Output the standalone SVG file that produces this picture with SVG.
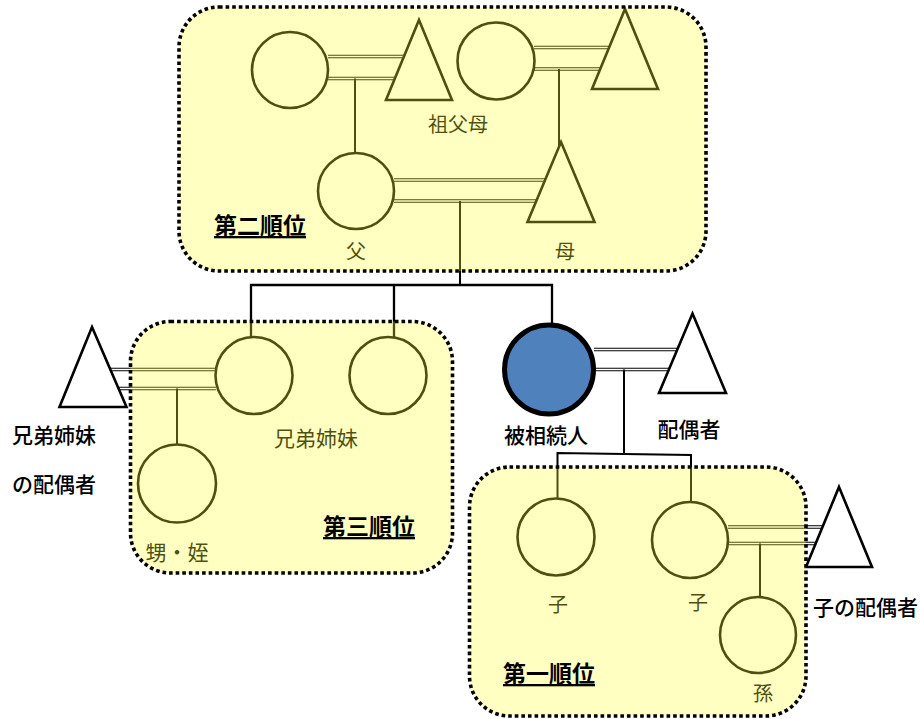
<svg xmlns="http://www.w3.org/2000/svg" width="920" height="719" viewBox="0 0 920 719">
<style>
.bg{fill:#ffffff}
.ln{fill:none;stroke:#000;stroke-width:2}
.dbl{fill:none;stroke:#000;stroke-width:3.6}
.dblin{fill:none;stroke:#fff;stroke-width:1.3}
.per{fill:#fff;stroke:#000;stroke-width:2.6}
.tri{fill:#fff;stroke:#000;stroke-width:2.6;stroke-linejoin:miter}
.dec{fill:#4f81bd;stroke:#000;stroke-width:5}
.lab{font-family:"Noto Sans CJK JP","Liberation Sans",sans-serif;font-size:20px;fill:#000;text-anchor:middle;dominant-baseline:central}
.blk{font-family:"Noto Sans CJK JP","Liberation Sans",sans-serif;font-size:21px;font-weight:500;fill:#000;dominant-baseline:central}
.ttl{font-family:"Noto Sans CJK JP","Liberation Sans",sans-serif;font-size:23px;font-weight:700;fill:#000;dominant-baseline:central;text-decoration:underline}
.box{fill:rgb(255,255,58);fill-opacity:0.31;stroke:#000;stroke-width:3.6;stroke-dasharray:3.6 3}
</style>
<rect class="bg" x="0" y="0" width="920" height="719"/>
<g id="connectors">
  <path class="dbl" d="M328,56.5H419M328,78.5H419"/>
  <path class="dblin" d="M328,56.5H419M328,78.5H419"/>
  <path class="ln" d="M355,78.5V160"/>
  <path class="dbl" d="M534,47.5H625M534,69H625"/>
  <path class="dblin" d="M534,47.5H625M534,69H625"/>
  <path class="ln" d="M559,69V160"/>
  <path class="dbl" d="M394,180H561M394,201H561"/>
  <path class="dblin" d="M394,180H561M394,201H561"/>
  <path class="ln" d="M460,201V285"/>
  <path class="ln" style="stroke-width:2.3" d="M251,345V285H552V335M394,285V345"/>
  <path class="dbl" d="M92,369.5H216M92,388.5H216"/>
  <path class="dblin" d="M92,369.5H216M92,388.5H216"/>
  <path class="ln" d="M177,388.5V450"/>
  <path class="dbl" d="M594,349.5H692M594,369.5H692"/>
  <path class="dblin" d="M594,349.5H692M594,369.5H692"/>
  <path class="ln" d="M624,369.5V454"/>
  <path class="ln" d="M557.5,505V453L691,455V510"/>
  <path class="dbl" d="M728,527H839M728,543.5H839"/>
  <path class="dblin" d="M728,527H839M728,543.5H839"/>
  <path class="ln" d="M760,543.5V605"/>
</g>
<g id="grandmother-paternal"><circle class="per" cx="290" cy="70" r="38"/></g>
<g id="grandfather-paternal"><polygon class="tri" points="419,20 452,100 386,100"/></g>
<g id="grandmother-maternal"><circle class="per" cx="496" cy="61" r="38.5"/></g>
<g id="grandfather-maternal"><polygon class="tri" points="625,9 658,89 592,89"/></g>
<g id="grandparents-label"><text class="lab" x="458" y="123">祖父母</text></g>
<g id="father"><circle class="per" cx="356" cy="191" r="38"/><text class="lab" x="356" y="250">父</text></g>
<g id="mother"><polygon class="tri" points="561,142 594.5,222 527.5,222"/><text class="lab" x="565" y="250">母</text></g>
<g id="sibling1"><circle class="per" cx="254" cy="375.5" r="38.5"/></g>
<g id="sibling2"><circle class="per" cx="388" cy="375.5" r="38.5"/><text class="lab" x="316" y="437" style="font-size:21px">兄弟姉妹</text></g>
<g id="sibling-spouse"><polygon class="tri" points="92,327 126.5,407 59.5,407"/></g>
<g id="nephew-niece"><circle class="per" cx="177" cy="483.5" r="39"/><text class="lab" x="177" y="551" style="font-size:21px">甥・姪</text></g>
<g id="decedent"><circle class="dec" cx="549" cy="369.5" r="44.5"/></g>
<g id="spouse"><polygon class="tri" points="692.5,313.5 726,393 659,393"/></g>
<g id="child1"><circle class="per" cx="556" cy="537" r="38.5"/><text class="lab" x="558" y="603">子</text></g>
<g id="child2"><circle class="per" cx="690" cy="540" r="38"/><text class="lab" x="698" y="601">子</text></g>
<g id="child-spouse"><polygon class="tri" points="839,487 872,567 806,567"/></g>
<g id="grandchild"><circle class="per" cx="758" cy="635" r="38"/><text class="lab" x="763" y="692">孫</text></g>
<g id="boxes">
  <rect id="second-rank" class="box" x="179" y="7" width="527" height="264" rx="40" ry="40"/>
  <rect id="third-rank" class="box" x="130.5" y="321.5" width="322" height="251.5" rx="40" ry="40"/>
  <rect id="first-rank" class="box" x="469.5" y="467" width="336.5" height="249" rx="40" ry="40"/>
</g>
<g id="labels">
  <text class="ttl" x="214" y="224">第二順位</text>
  <text class="ttl" x="323" y="525">第三順位</text>
  <text class="ttl" x="503" y="672">第一順位</text>
  <text class="blk" x="12" y="434">兄弟姉妹</text>
  <text class="blk" x="12" y="483">の配偶者</text>
  <text class="blk" x="546" y="434" text-anchor="middle">被相続人</text>
  <text class="blk" x="689" y="428" text-anchor="middle">配偶者</text>
  <text class="blk" x="813" y="606">子の配偶者</text>
</g>
</svg>
